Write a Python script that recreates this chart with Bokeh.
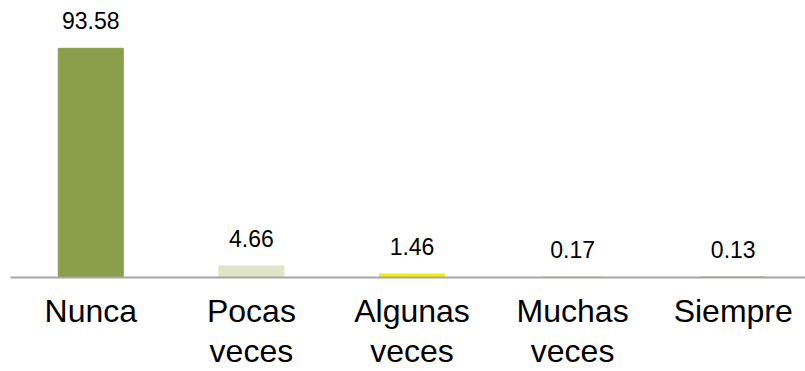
from bokeh.plotting import figure
from bokeh.models import Range1d, ColumnDataSource, FixedTicker
from bokeh.core.properties import value
from bokeh.embed import file_html
from bokeh.resources import INLINE

categories = ["Nunca", "Pocas\nveces", "Algunas\nveces", "Muchas\nveces", "Siempre"]
values = [93.58, 4.66, 1.46, 0.17, 0.13]
labels = ["93.58", "4.66", "1.46", "0.17", "0.13"]
colors = ["#8b9f4b", "#dfe6c8", "#f2f200", "#c6d49a", "#6e7f3a"]

xs = list(range(len(categories)))
src = ColumnDataSource(dict(x=xs, top=values, lab=labels, color=colors))

p = figure(width=805, height=371, output_backend="svg", toolbar_location=None,
           x_range=Range1d(-0.5, 4.45), y_range=Range1d(0, 113.1),
           min_border_left=10, min_border_right=0, min_border_top=0, min_border_bottom=0)

p.vbar(x="x", top="top", width=0.405, bottom=0, color="color", source=src)
p.text(x="x", y="top", text="lab", source=src, text_align="center", text_baseline="middle",
       y_offset=-27.5, text_font=value("Liberation Sans"), text_font_size="23px", text_color="#000000")

p.xaxis.ticker = FixedTicker(ticks=xs)
p.xaxis.major_label_overrides = {i: c for i, c in enumerate(categories)}
p.xaxis.major_label_text_font = "Liberation Sans"
p.xaxis.major_label_text_font_size = "32px"
p.xaxis.major_label_text_line_height = 1.12
p.xaxis.major_label_text_color = "#000000"
p.xaxis.major_label_standoff = 15
p.xaxis.major_tick_line_color = None
p.xaxis.major_tick_out = 0
p.xaxis.major_tick_in = 0
p.xaxis.minor_tick_line_color = None
p.xaxis.axis_line_color = "#a6a6a6"
p.xaxis.axis_line_width = 2
p.yaxis.visible = False
p.xgrid.visible = False
p.ygrid.visible = False
p.outline_line_color = None

open("out.html", "w").write(file_html(p, INLINE))
